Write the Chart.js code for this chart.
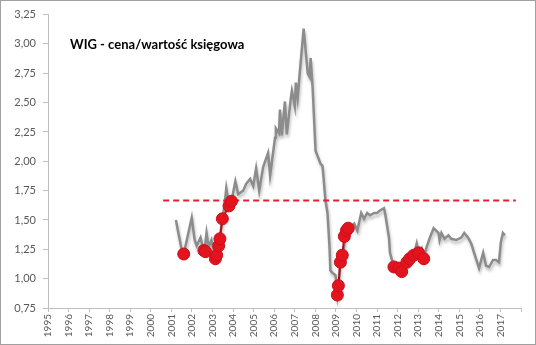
<!DOCTYPE html>
<html>
<head>
<meta charset="utf-8">
<script src="https://cdn.jsdelivr.net/npm/chart.js@4"></script>
<style>
  body { margin: 0; background: #fff; }
  #wrap { position: relative; width: 536px; height: 345px; box-sizing: border-box; border: 1px solid #a0a0a0; }
  #title { position: absolute; left: 69px; top: 35px; font: bold 13px Lato, sans-serif; color: #000; }
</style>
</head>
<body>
<div id="wrap">
  <canvas id="chart" width="534" height="343"></canvas>
  <div id="title">WIG - cena/wartość księgowa</div>
</div>
<script>
// gray line: P/BV of WIG (decimal year, value)
const dates = [
  2001.22, 2001.36, 2001.51, 2001.60, 2001.80, 2001.99, 2002.13, 2002.23, 2002.42, 2002.52,
  2002.61, 2002.71, 2002.81, 2002.95, 2003.14, 2003.24, 2003.34, 2003.48, 2003.58, 2003.67,
  2003.77, 2003.92, 2004.11, 2004.25, 2004.49, 2004.64, 2004.83, 2004.98, 2005.12, 2005.27,
  2005.46, 2005.70, 2005.80, 2006.04, 2006.08, 2006.23, 2006.28, 2006.37, 2006.52, 2006.61,
  2006.81, 2006.86, 2007.00, 2007.05, 2007.14, 2007.24, 2007.43, 2007.63, 2007.72, 2007.77,
  2007.87, 2008.01, 2008.25, 2008.35, 2008.49, 2008.59, 2008.69, 2008.73, 2008.83, 2008.98,
  2009.07, 2009.12, 2009.22, 2009.36, 2009.46, 2009.60, 2009.70, 2009.89, 2010.04, 2010.23,
  2010.37, 2010.52, 2010.66, 2010.86, 2011.00, 2011.14, 2011.34, 2011.39, 2011.58, 2011.63,
  2011.82, 2012.06, 2012.20, 2012.45, 2012.59, 2012.78, 2012.93, 2013.02, 2013.17, 2013.27,
  2013.41, 2013.55, 2013.75, 2013.99, 2014.04, 2014.13, 2014.28, 2014.47, 2014.61, 2014.86,
  2015.10, 2015.24, 2015.43, 2015.58, 2015.72, 2015.96, 2016.16, 2016.30, 2016.45, 2016.64,
  2016.78, 2016.93, 2017.02, 2017.12, 2017.22
];
const pbv = [
  1.50, 1.37, 1.24, 1.21, 1.37, 1.52, 1.33, 1.28, 1.35, 1.27,
  1.24, 1.39, 1.27, 1.33, 1.17, 1.22, 1.33, 1.51, 1.62, 1.77,
  1.66, 1.66, 1.83, 1.72, 1.75, 1.81, 1.85, 1.79, 1.94, 1.75,
  1.95, 2.07, 1.88, 2.20, 2.28, 2.24, 2.44, 2.22, 2.51, 2.23,
  2.54, 2.60, 2.47, 2.67, 2.54, 2.75, 3.13, 2.75, 2.72, 2.88,
  2.62, 2.09, 1.98, 1.96, 1.67, 1.56, 1.27, 1.07, 1.05, 1.03,
  0.86, 0.93, 1.16, 1.22, 1.37, 1.42, 1.44, 1.47, 1.41, 1.56,
  1.51, 1.56, 1.54, 1.56, 1.56, 1.58, 1.60, 1.56, 1.35, 1.22,
  1.10, 1.09, 1.06, 1.14, 1.17, 1.20, 1.30, 1.22, 1.26, 1.17,
  1.27, 1.34, 1.43, 1.39, 1.33, 1.39, 1.34, 1.37, 1.34, 1.33,
  1.35, 1.39, 1.35, 1.30, 1.22, 1.09, 1.22, 1.11, 1.10, 1.16,
  1.16, 1.14, 1.31, 1.39, 1.37
];

// red markers: cheap periods (null = gap)
const cheapDates = [
  2001.60, null,
  2002.58, 2002.66, null,
  2003.14, 2003.20, 2003.30, 2003.36, 2003.48, 2003.80, 2003.92, null,
  2009.07, 2009.12, 2009.22, 2009.31, 2009.41, 2009.51, 2009.60, null,
  2011.82, 2012.06, 2012.20, 2012.45, 2012.59, 2012.78, 2013.02, 2013.27
];
const cheapValues = [
  1.21, null,
  1.24, 1.23, null,
  1.17, 1.20, 1.28, 1.34, 1.51, 1.62, 1.66, null,
  0.86, 0.94, 1.14, 1.20, 1.36, 1.41, 1.43, null,
  1.10, 1.09, 1.06, 1.14, 1.17, 1.20, 1.22, 1.17
];

// threshold dashed line
const levelDates = [2000.6, 2017.75];
const levelValue = 1.665;

const yMin = 0.75, yMax = 3.25, yStep = 0.25;
const xMin = 1995, xMax = 2018;

const shadowPlugin = {
  id: 'shadow',
  beforeDatasetDraw(chart, args) {
    if (args.index === 0) {
      const ctx = chart.ctx;
      ctx.save();
      ctx.shadowColor = 'rgba(0,0,0,0.25)';
      ctx.shadowBlur = 3;
      ctx.shadowOffsetX = 1;
      ctx.shadowOffsetY = 3;
    }
  },
  afterDatasetDraw(chart, args) {
    if (args.index === 0) chart.ctx.restore();
  }
};

const ctx = document.getElementById('chart').getContext('2d');
new Chart(ctx, {
  type: 'line',
  data: {
    datasets: [
      {
        data: dates.map((d, i) => ({ x: d, y: pbv[i] })),
        borderColor: '#8c8c8c',
        borderWidth: 2.5,
        pointRadius: 0,
        tension: 0,
        order: 3
      },
      {
        data: levelDates.map(d => ({ x: d, y: levelValue })),
        borderColor: '#e0202c',
        borderWidth: 2,
        borderDash: [6, 4],
        pointRadius: 0,
        order: 2
      },
      {
        data: cheapDates.map((d, i) => ({ x: d, y: cheapValues[i] })),
        borderColor: '#b0101c',
        borderWidth: 2,
        pointRadius: 6,
        pointBackgroundColor: '#e4141f',
        pointBorderColor: '#c8101a',
        pointBorderWidth: 1,
        spanGaps: false,
        order: 1
      }
    ]
  },
  options: {
    responsive: false,
    animation: false,
    layout: { padding: { top: 12, right: 11, left: 0, bottom: 0 } },
    plugins: { legend: { display: false }, tooltip: { enabled: false } },
    scales: {
      x: {
        type: 'linear',
        min: xMin,
        max: xMax,
        afterFit(scale) { scale.height = 36; },
        grid: { drawOnChartArea: false, drawTicks: true, tickLength: 4, color: '#bfbfbf' },
        border: { display: true, color: '#bfbfbf' },
        ticks: {
          stepSize: 1,
          minRotation: 90,
          maxRotation: 90,
          padding: 2,
          color: '#595959',
          font: { family: 'Lato', size: 10 },
          callback: v => (v === xMax ? '' : String(v))
        }
      },
      y: {
        min: yMin,
        max: yMax,
        afterFit(scale) { scale.width = 47; },
        grid: { drawOnChartArea: false, drawTicks: true, tickLength: 5, color: '#bfbfbf' },
        border: { display: true, color: '#bfbfbf' },
        ticks: {
          stepSize: yStep,
          padding: 7,
          color: '#595959',
          font: { family: 'Lato', size: 11 },
          callback: v => v.toFixed(2).replace('.', ',')
        }
      }
    }
  },
  plugins: [shadowPlugin]
});
</script>
</body>
</html>
